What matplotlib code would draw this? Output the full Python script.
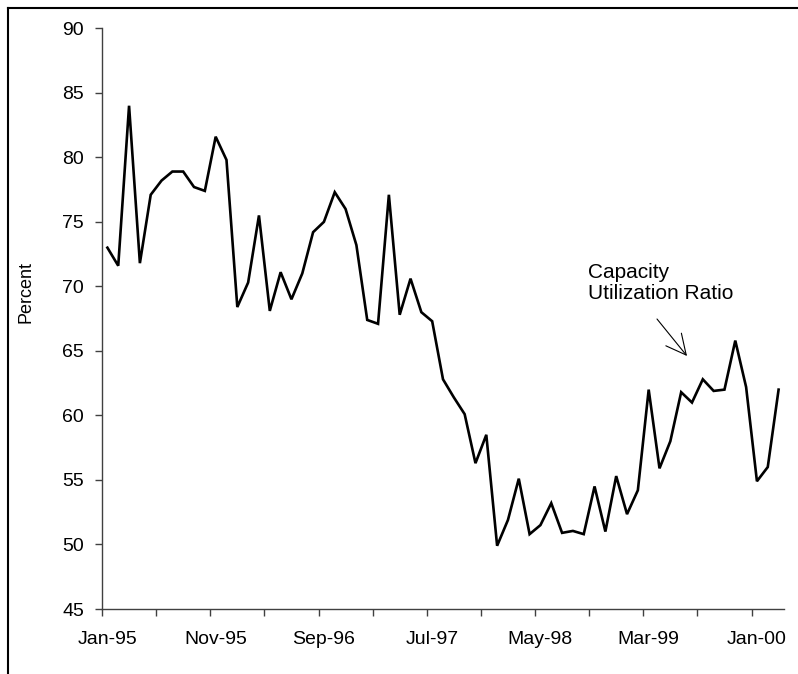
import matplotlib
matplotlib.use("Agg")
import matplotlib.pyplot as plt
from matplotlib.lines import Line2D
import numpy as np
import pandas as pd

# Monthly capacity utilization ratio, Jan-1995 .. Mar-2000
months = pd.date_range("1995-01-01", "2000-03-01", freq="MS").strftime("%b-%y").tolist()
utilization = [
    73.0, 71.6, 84.0, 71.8, 77.1, 78.2, 78.9, 78.9, 77.7, 77.4,
    81.6, 79.8, 68.4, 70.3, 75.5, 68.1, 71.1, 69.0, 71.0, 74.2,
    75.0, 77.3, 76.0, 73.2, 67.4, 67.1, 77.1, 67.8, 70.6, 68.0,
    67.3, 62.8, 61.4, 60.1, 56.3, 58.5, 49.9, 51.9, 55.1, 50.8,
    51.5, 53.2, 50.9, 51.05, 50.8, 54.5, 51.0, 55.3, 52.35, 54.2,
    62.0, 55.9, 58.0, 61.8, 61.0, 62.8, 61.9, 62.0, 65.8, 62.2,
    54.9, 56.0, 62.0,
]
label_months = ["Jan-95", "Nov-95", "Sep-96", "Jul-97", "May-98", "Mar-99", "Jan-00"]
y_ticks = [45, 50, 55, 60, 65, 70, 75, 80, 85, 90]

plt.rcParams["font.family"] = ["Liberation Sans", "DejaVu Sans"]

W, H = 798, 674
fig = plt.figure(figsize=(W / 100, H / 100), dpi=100)
ax = fig.add_axes([102 / W, 1 - 609 / H, (784 - 102) / W, (609 - 28.3) / H])

x = np.arange(len(months))
ax.plot(x, utilization, color="black", lw=1.9, solid_joinstyle="miter")

ax.set_xlim(-0.5, len(months) - 0.5)
ax.set_ylim(45, 90)

# tick marks between categories every 5 months, labels every 10 months
ax.set_xticks(np.arange(0, len(months), 5) - 0.5)
ax.set_xticklabels([])
label_pos = [months.index(m) for m in label_months]
ax.set_xticks(label_pos, minor=True)
ax.set_xticklabels(label_months, minor=True)
ax.tick_params(axis="x", which="major", direction="out", length=5, width=1, color="#404040")
ax.tick_params(axis="x", which="minor", length=0, pad=15.5, labelsize=14)

ax.set_yticks(y_ticks)
ax.set_yticklabels([str(v) for v in y_ticks])
ax.tick_params(axis="y", direction="out", length=5, width=1, color="#404040", pad=8, labelsize=14)

for side in ("top", "right"):
    ax.spines[side].set_visible(False)
for side in ("left", "bottom"):
    ax.spines[side].set_color("#404040")
    ax.spines[side].set_linewidth(1)

fig.text(26 / W, 1 - 292 / H, "Percent", rotation=90, ha="center", va="center", fontsize=13)

fig.text(588 / W, 1 - 263 / H, "Capacity\nUtilization Ratio",
         ha="left", va="top", fontsize=15, linespacing=1.12)
ax.annotate(
    "",
    xy=(687 / W, 1 - 356 / H), xycoords="figure fraction",
    xytext=(657 / W, 1 - 319 / H), textcoords="figure fraction",
    arrowprops=dict(arrowstyle="->,head_length=0.8,head_width=0.4", lw=0.8,
                    color="black", shrinkA=0, shrinkB=0, mutation_scale=18),
)

# chart frame edges
fig.add_artist(Line2D([8 / W, 8 / W], [0, 1 - 8 / H], transform=fig.transFigure, color="black", lw=1.5))
fig.add_artist(Line2D([8 / W, 1], [1 - 8 / H, 1 - 8 / H], transform=fig.transFigure, color="black", lw=1.5))

fig.savefig("out.png", dpi=100)
